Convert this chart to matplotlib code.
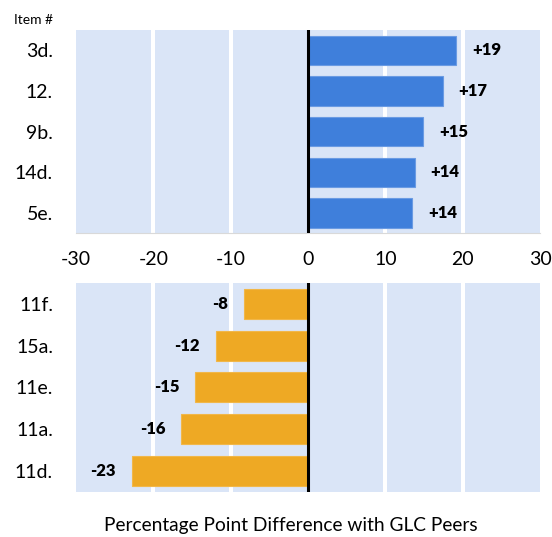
import matplotlib
matplotlib.use("Agg")
import matplotlib.pyplot as plt

plt.rcParams['font.family'] = ['Lato', 'DejaVu Sans']

top_items = ["3d.", "12.", "9b.", "14d.", "5e."]
top_values = [19.2, 17.4, 14.9, 13.8, 13.5]
top_labels = ["+19", "+17", "+15", "+14", "+14"]

bottom_items = ["11f.", "15a.", "11e.", "11a.", "11d."]
bottom_values = [-8.3, -11.9, -14.6, -16.4, -22.8]
bottom_labels = ["-8", "-12", "-15", "-16", "-23"]

x_ticks = [-30, -20, -10, 0, 10, 20, 30]
x_label = "Percentage Point Difference with GLC Peers"

BLUE = "#3F7FDB"
BLUE_EDGE = "#6A9BE3"
ORANGE = "#EEA924"
ORANGE_EDGE = "#F1B749"
BG = "#DAE5F7"

fig = plt.figure(figsize=(5.52, 5.37), dpi=100)
ax1 = fig.add_axes([0.1377, 0.5655, 0.8406, 0.3786])
ax2 = fig.add_axes([0.1377, 0.0844, 0.8406, 0.3886])


def style(ax, items, values, labels, color, edge, show_x):
    ax.set_facecolor(BG)
    pos = list(range(len(items)))
    ax.barh(pos, values, height=0.72, color=color, edgecolor=edge,
            linewidth=0.8, zorder=3)
    ax.set_xlim(-30, 30)
    ax.set_ylim(len(items) - 0.5, -0.5)
    for g in [-20, -10, 10, 20]:
        ax.axvline(g, color="white", lw=2.9, zorder=1)
    ax.axvline(0, color="black", lw=2.2, zorder=4)
    ax.set_yticks(pos)
    ax.set_yticklabels(items, fontsize=14)
    ax.tick_params(axis="y", length=0, pad=16.5)
    for s in ["top", "right", "left", "bottom"]:
        ax.spines[s].set_visible(False)
    if show_x:
        ax.set_xticks(x_ticks)
        ax.set_xticklabels([str(t) for t in x_ticks], fontsize=14)
        ax.tick_params(axis="x", length=0, pad=13)
        ax.spines["bottom"].set_visible(True)
        ax.spines["bottom"].set_color("#D9D9D9")
        ax.spines["bottom"].set_linewidth(0.8)
    else:
        ax.set_xticks([])
    for p, v, lab in zip(pos, values, labels):
        off = 11.5 if v >= 0 else -11.5
        ax.annotate(lab, xy=(v, p), xytext=(off, 0), textcoords="offset points",
                    ha="left" if v >= 0 else "right", va="center",
                    fontsize=12, fontweight="heavy", color="black", zorder=5)


style(ax1, top_items, top_values, top_labels, BLUE, BLUE_EDGE, True)
style(ax2, bottom_items, bottom_values, bottom_labels, ORANGE, ORANGE_EDGE, False)

fig.text(14 / 552, 1 - 20 / 537, "Item #", fontsize=10, ha="left", va="center")
fig.text(291 / 552, 1 - 531.5 / 537, x_label, fontsize=13.8, ha="center",
         va="baseline")

fig.savefig("out.png", dpi=100)
